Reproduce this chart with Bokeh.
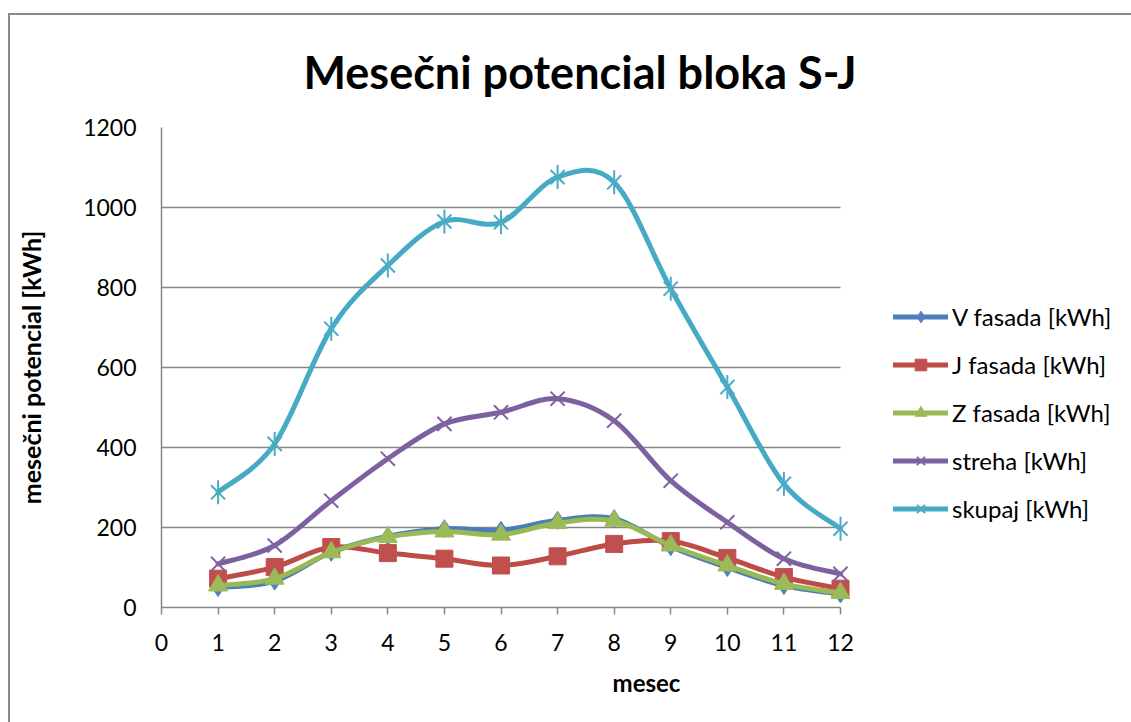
import numpy as np
from bokeh.plotting import figure
from bokeh.models import (ColumnDataSource, Legend, LegendItem, FixedTicker,
                          Range1d, InlineStyleSheet)
from bokeh.embed import file_html
from bokeh.resources import INLINE

months = list(range(1, 13))
v_fasada = [50, 66, 138, 178, 197, 193, 218, 222, 152, 100, 55, 34]
j_fasada = [72, 101, 151, 136, 122, 105, 128, 159, 166, 124, 76, 47]
z_fasada = [55, 72, 138, 176, 190, 182, 211, 217, 155, 105, 59, 36]
streha = [109, 155, 267, 372, 459, 488, 522, 467, 317, 213, 122, 84]
skupaj = [288, 409, 697, 855, 965, 963, 1076, 1063, 797, 551, 309, 197]

labels = ["V fasada [kWh]", "J fasada [kWh]", "Z fasada [kWh]",
          "streha [kWh]", "skupaj [kWh]"]
series = [v_fasada, j_fasada, z_fasada, streha, skupaj]
line_colors = ["#4A7EBB", "#BE4B48", "#98B954", "#7D60A0", "#46AAC5"]
marker_colors = ["#4F81BD", "#C0504D", "#9BBB59", "#8064A2", "#4BACC6"]

FONT = "Lato"

# frame spans 161..1131 px; 12 months occupy 679 px
p = figure(width=1131, height=722, output_backend="svg", toolbar_location=None,
           x_range=Range1d(0, 12 * 970 / 679), y_range=Range1d(0, 1200),
           min_border_left=161, min_border_right=0,
           min_border_top=127, min_border_bottom=115)
p.outline_line_color = None
p.background_fill_color = "white"
p.border_fill_color = "white"
p.stylesheets = [InlineStyleSheet(css=(
    ":host::after { content: ''; position: absolute; left: 8px; top: 13px;"
    " right: -4px; bottom: -4px; border-left: 2px solid #898989;"
    " border-top: 2px solid #898989; pointer-events: none; z-index: 10; }"))]

p.title.text = "Mesečni potencial bloka S-J"
p.title.text_font = FONT
p.title.text_font_size = "45px"
p.title.text_font_style = "bold"
p.title.text_color = "black"
p.title.align = "left"
p.title.offset = 142
p.title.standoff = 58

# axes
p.xaxis.ticker = FixedTicker(ticks=list(range(0, 13)))
p.xaxis.bounds = (0, 12)
p.yaxis.ticker = FixedTicker(ticks=list(range(0, 1201, 200)))
for ax in (p.xaxis[0], p.yaxis[0]):
    ax.axis_line_color = "#868686"
    ax.axis_line_width = 1.5
    ax.major_tick_line_color = "#868686"
    ax.major_tick_line_width = 1.5
    ax.minor_tick_line_color = None
    ax.major_label_text_font = FONT
    ax.major_label_text_font_size = "23px"
    ax.major_label_text_color = "black"
    ax.axis_label_text_font = FONT
    ax.axis_label_text_font_style = "bold"
    ax.axis_label_text_color = "black"
p.xaxis.major_tick_in = 0
p.xaxis.major_tick_out = 7
p.xaxis.major_label_standoff = 19
p.xaxis.axis_label = "mesec"
p.xaxis.axis_label_text_font_size = "24px"
p.xaxis.axis_label_standoff = 14
p.yaxis.major_tick_in = 0
p.yaxis.major_tick_out = 0
p.yaxis.major_label_standoff = 25
p.yaxis.axis_label = "mesečni potencial [kWh]"
p.yaxis.axis_label_text_font_size = "25px"
p.yaxis.axis_label_standoff = 34

p.xgrid.grid_line_color = None
p.ygrid.grid_line_color = "#868686"
p.ygrid.grid_line_width = 1.5
p.ygrid.cross_bounds = (0, 12)


def bezier_source(xs, ys):
    n = len(xs)
    xs = np.asarray(xs, dtype=float)
    ys = np.asarray(ys, dtype=float)
    d = dict(x0=[], y0=[], x1=[], y1=[], cx0=[], cy0=[], cx1=[], cy1=[])
    for i in range(n - 1):
        im1 = max(i - 1, 0)
        ip2 = min(i + 2, n - 1)
        d["x0"].append(xs[i]); d["y0"].append(ys[i])
        d["x1"].append(xs[i + 1]); d["y1"].append(ys[i + 1])
        d["cx0"].append(xs[i] + (xs[i + 1] - xs[im1]) / 6)
        d["cy0"].append(ys[i] + (ys[i + 1] - ys[im1]) / 6)
        d["cx1"].append(xs[i + 1] - (xs[ip2] - xs[i]) / 6)
        d["cy1"].append(ys[i + 1] - (ys[ip2] - ys[i]) / 6)
    return ColumnDataSource(d)


items = []
markers = ["diamond", "square", "triangle", "x", "x"]
sizes = [18, 17, 19, 20, 20]
for k, (lab, vals) in enumerate(zip(labels, series)):
    src = bezier_source(months, vals)
    p.bezier(x0="x0", y0="y0", x1="x1", y1="y1", cx0="cx0", cy0="cy0",
             cx1="cx1", cy1="cy1", source=src, line_color=line_colors[k],
             line_width=5, line_cap="round")
    proxy = p.line(x=[np.nan], y=[np.nan], line_color=line_colors[k],
                   line_width=5, line_cap="round")
    pts = ColumnDataSource(dict(x=months, y=vals))
    if markers[k] == "x":
        r = p.scatter("x", "y", source=pts, marker="x", size=sizes[k],
                      line_color=marker_colors[k], line_width=2)
        rends = [proxy, r]
        if k == 4:
            r2 = p.scatter("x", "y", source=pts, marker="dash", angle=np.pi / 2,
                           size=sizes[k] + 4, line_color=marker_colors[k],
                           line_width=2)
            rends.append(r2)
    else:
        r = p.scatter("x", "y", source=pts, marker=markers[k], size=sizes[k],
                      fill_color=marker_colors[k], line_color=marker_colors[k])
        rends = [proxy, r]
    items.append(LegendItem(label=lab, renderers=rends))

legend = Legend(items=items, location=(732, 84), orientation="vertical")
legend.label_text_font = FONT
legend.label_text_font_size = "24px"
legend.label_text_color = "black"
legend.glyph_width = 55
legend.glyph_height = 29
legend.label_height = 29
legend.label_standoff = 4
legend.spacing = 19
legend.padding = 0
legend.margin = 0
legend.border_line_color = None
legend.background_fill_alpha = 0
p.add_layout(legend, "center")

open("out.html", "w").write(file_html(p, INLINE))
